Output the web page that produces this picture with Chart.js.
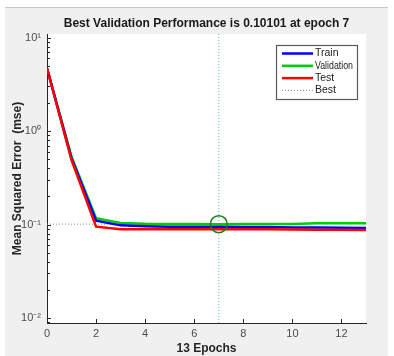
<!DOCTYPE html>
<html><head><meta charset="utf-8">
<script src="https://cdn.jsdelivr.net/npm/chart.js@4.4.0/dist/chart.umd.min.js"></script>
<style>html,body{margin:0;padding:0;background:#f0f0f0;overflow:hidden}</style>
</head><body>
<canvas id="c" width="394" height="356" style="display:block;width:394px;height:356px"></canvas>
<script>
const epochs = [0,1,2,3,4,5,6,7,8,9,10,11,12,13];
const trainPerf = [4.7,0.51,0.110,0.098,0.096,0.095,0.095,0.0945,0.094,0.094,0.093,0.093,0.0925,0.092];
const valPerf   = [4.7,0.53,0.117,0.104,0.102,0.1015,0.1012,0.10101,0.1012,0.1013,0.1015,0.103,0.1035,0.1035];
const testPerf  = [4.7,0.49,0.095,0.089,0.089,0.089,0.089,0.089,0.089,0.0888,0.0885,0.088,0.0878,0.0875];
const bestEpoch = 7;
const bestPerf = 0.10101;
const xTickValues = [0,2,4,6,8,10,12];
const yTickValues = [0.01,0.1,1,10];
const yTickLabels = ['10\u207B\u00B2','10\u207B\u00B9','10\u2070','10\u00B9'];
const seriesNames = ['Train','Validation','Test','Best'];

const Y_MIN = Math.pow(10,-2.053);
const Y_MAX = Math.pow(10,1.038);
const FONT = 'Liberation Sans, Arial, sans-serif';

const pts = arr => arr.map((v,i)=>({x:epochs[i], y:v}));

const decor = {
  id:'decor',
  beforeDraw(chart){
    const ctx = chart.ctx, a = chart.chartArea;
    ctx.save();
    ctx.fillStyle='#f0f0f0'; ctx.fillRect(0,0,394,356);
    ctx.fillStyle='#ffffff';
    ctx.fillRect(0,0,394,7); ctx.fillRect(0,0,5,356); ctx.fillRect(388,0,6,356);
    ctx.fillStyle='#c8c8c8'; ctx.fillRect(5,7,383,1);
    ctx.fillStyle='#ffffff'; ctx.fillRect(a.left,a.top,a.right-a.left,a.bottom-a.top);
    ctx.restore();
  },
  afterDatasetsDraw(chart){
    const ctx = chart.ctx, a = chart.chartArea;
    const xs = chart.scales.x, ys = chart.scales.y;
    ctx.save();
    ctx.strokeStyle='#262626'; ctx.lineWidth=1;
    ctx.beginPath();
    xTickValues.forEach(v=>{
      const px = Math.round(xs.getPixelForValue(v))+0.5;
      ctx.moveTo(px,a.bottom); ctx.lineTo(px,a.bottom-4);
    });
    for(let k=-3;k<=1;k++){
      for(let m=1;m<=9;m++){
        const v = m*Math.pow(10,k);
        if(v<Y_MIN||v>Y_MAX) continue;
        const py = Math.round(ys.getPixelForValue(v))+0.5;
        ctx.moveTo(a.left,py); ctx.lineTo(a.left+(m===1?4:3),py);
      }
    }
    ctx.stroke();
    ctx.restore();
  },
  afterDraw(chart){
    const ctx = chart.ctx, a = chart.chartArea;
    const bx = a.right-90, by = a.top+11, bw = 81, bh = 54;
    ctx.save();
    ctx.fillStyle='#ffffff'; ctx.fillRect(bx,by,bw,bh);
    ctx.strokeStyle='#5a5a5a'; ctx.lineWidth=1.2;
    ctx.strokeRect(bx+0.5,by+0.5,bw,bh);
    const items = chart.data.datasets.filter(d=>d.inLegend);
    ctx.font = '10.5px '+FONT;
    ctx.textBaseline='middle';
    items.forEach((d,i)=>{
      const cy = by+8.5+i*12.3;
      ctx.strokeStyle=d.legendColor||d.borderColor;
      ctx.lineWidth=d.legendWidth||d.borderWidth;
      ctx.setLineDash(d.borderDash||[]);
      ctx.beginPath(); ctx.moveTo(bx+6,cy); ctx.lineTo(bx+37,cy); ctx.stroke();
      ctx.setLineDash([]);
      ctx.fillStyle='#222';
      ctx.fillText(d.label,bx+39,cy,bw-43);
    });
    ctx.restore();
  }
};

new Chart(document.getElementById('c'),{
  type:'line',
  data:{datasets:[
    {label:seriesNames[0], data:pts(trainPerf), borderColor:'#0000ff', borderWidth:2.5, pointRadius:0, order:2, inLegend:true},
    {label:seriesNames[1], data:pts(valPerf), borderColor:'#00cc00', borderWidth:2.5, pointRadius:0, order:3, inLegend:true},
    {label:seriesNames[2], data:pts(testPerf), borderColor:'#ff0000', borderWidth:2.5, pointRadius:0, order:1, inLegend:true},
    {label:seriesNames[3], data:[{x:bestEpoch,y:Y_MIN},{x:bestEpoch,y:Y_MAX}], borderColor:'#5fb3bd', borderWidth:1, borderDash:[1,2], pointRadius:0, order:5, inLegend:true, legendColor:'#7f9595'},
    {label:'bestH', data:[{x:0,y:bestPerf},{x:bestEpoch,y:bestPerf}], borderColor:'#8c8c8c', borderWidth:1, borderDash:[1,2], pointRadius:0, order:6},
    {label:'bestPt', data:[{x:bestEpoch,y:bestPerf}], showLine:false, pointRadius:8.5, pointBorderColor:'#1f7a1f', pointBackgroundColor:'rgba(0,0,0,0)', pointBorderWidth:1.5, order:0}
  ]},
  options:{
    responsive:false, animation:false, devicePixelRatio:1,
    layout:{padding:{left:5,right:28,top:0,bottom:0}},
    plugins:{
      legend:{display:false}, tooltip:{enabled:false},
      title:{display:true, fullSize:false,
        text:'Best Validation Performance is '+bestPerf+' at epoch '+bestEpoch,
        color:'#1a1a1a', font:{family:FONT,size:12,weight:'bold'}, padding:{top:16.8,bottom:2.8}}
    },
    scales:{
      x:{type:'linear', min:0, max:13,
        grid:{display:false, drawTicks:false},
        border:{display:true,color:'#262626',width:1},
        ticks:{color:'#4d4d4d', font:{family:FONT,size:11}, padding:4, autoSkip:false, maxRotation:0},
        afterBuildTicks(s){ s.ticks = xTickValues.map(v=>({value:v})); },
        afterFit(s){ s.height = 33; },
        title:{display:true, text:(epochs.length-1)+' Epochs', color:'#262626', font:{family:FONT,size:12,weight:'bold'}, padding:{top:0,bottom:0}}
      },
      y:{type:'logarithmic', min:Y_MIN, max:Y_MAX,
        grid:{display:false, drawTicks:false},
        border:{display:true,color:'#262626',width:1},
        ticks:{color:'#4d4d4d', font:{family:FONT,size:11}, padding:6, autoSkip:false,
          callback:(v,i)=>yTickLabels[i]},
        afterBuildTicks(s){ s.ticks = yTickValues.map(v=>({value:v})); },
        afterFit(s){ s.width = 42; },
        title:{display:true, text:'Mean Squared Error  (mse)', color:'#262626', font:{family:FONT,size:12,weight:'bold'}, padding:{top:5.8,bottom:0}}
      }
    }
  },
  plugins:[decor]
});
</script>
</body></html>
